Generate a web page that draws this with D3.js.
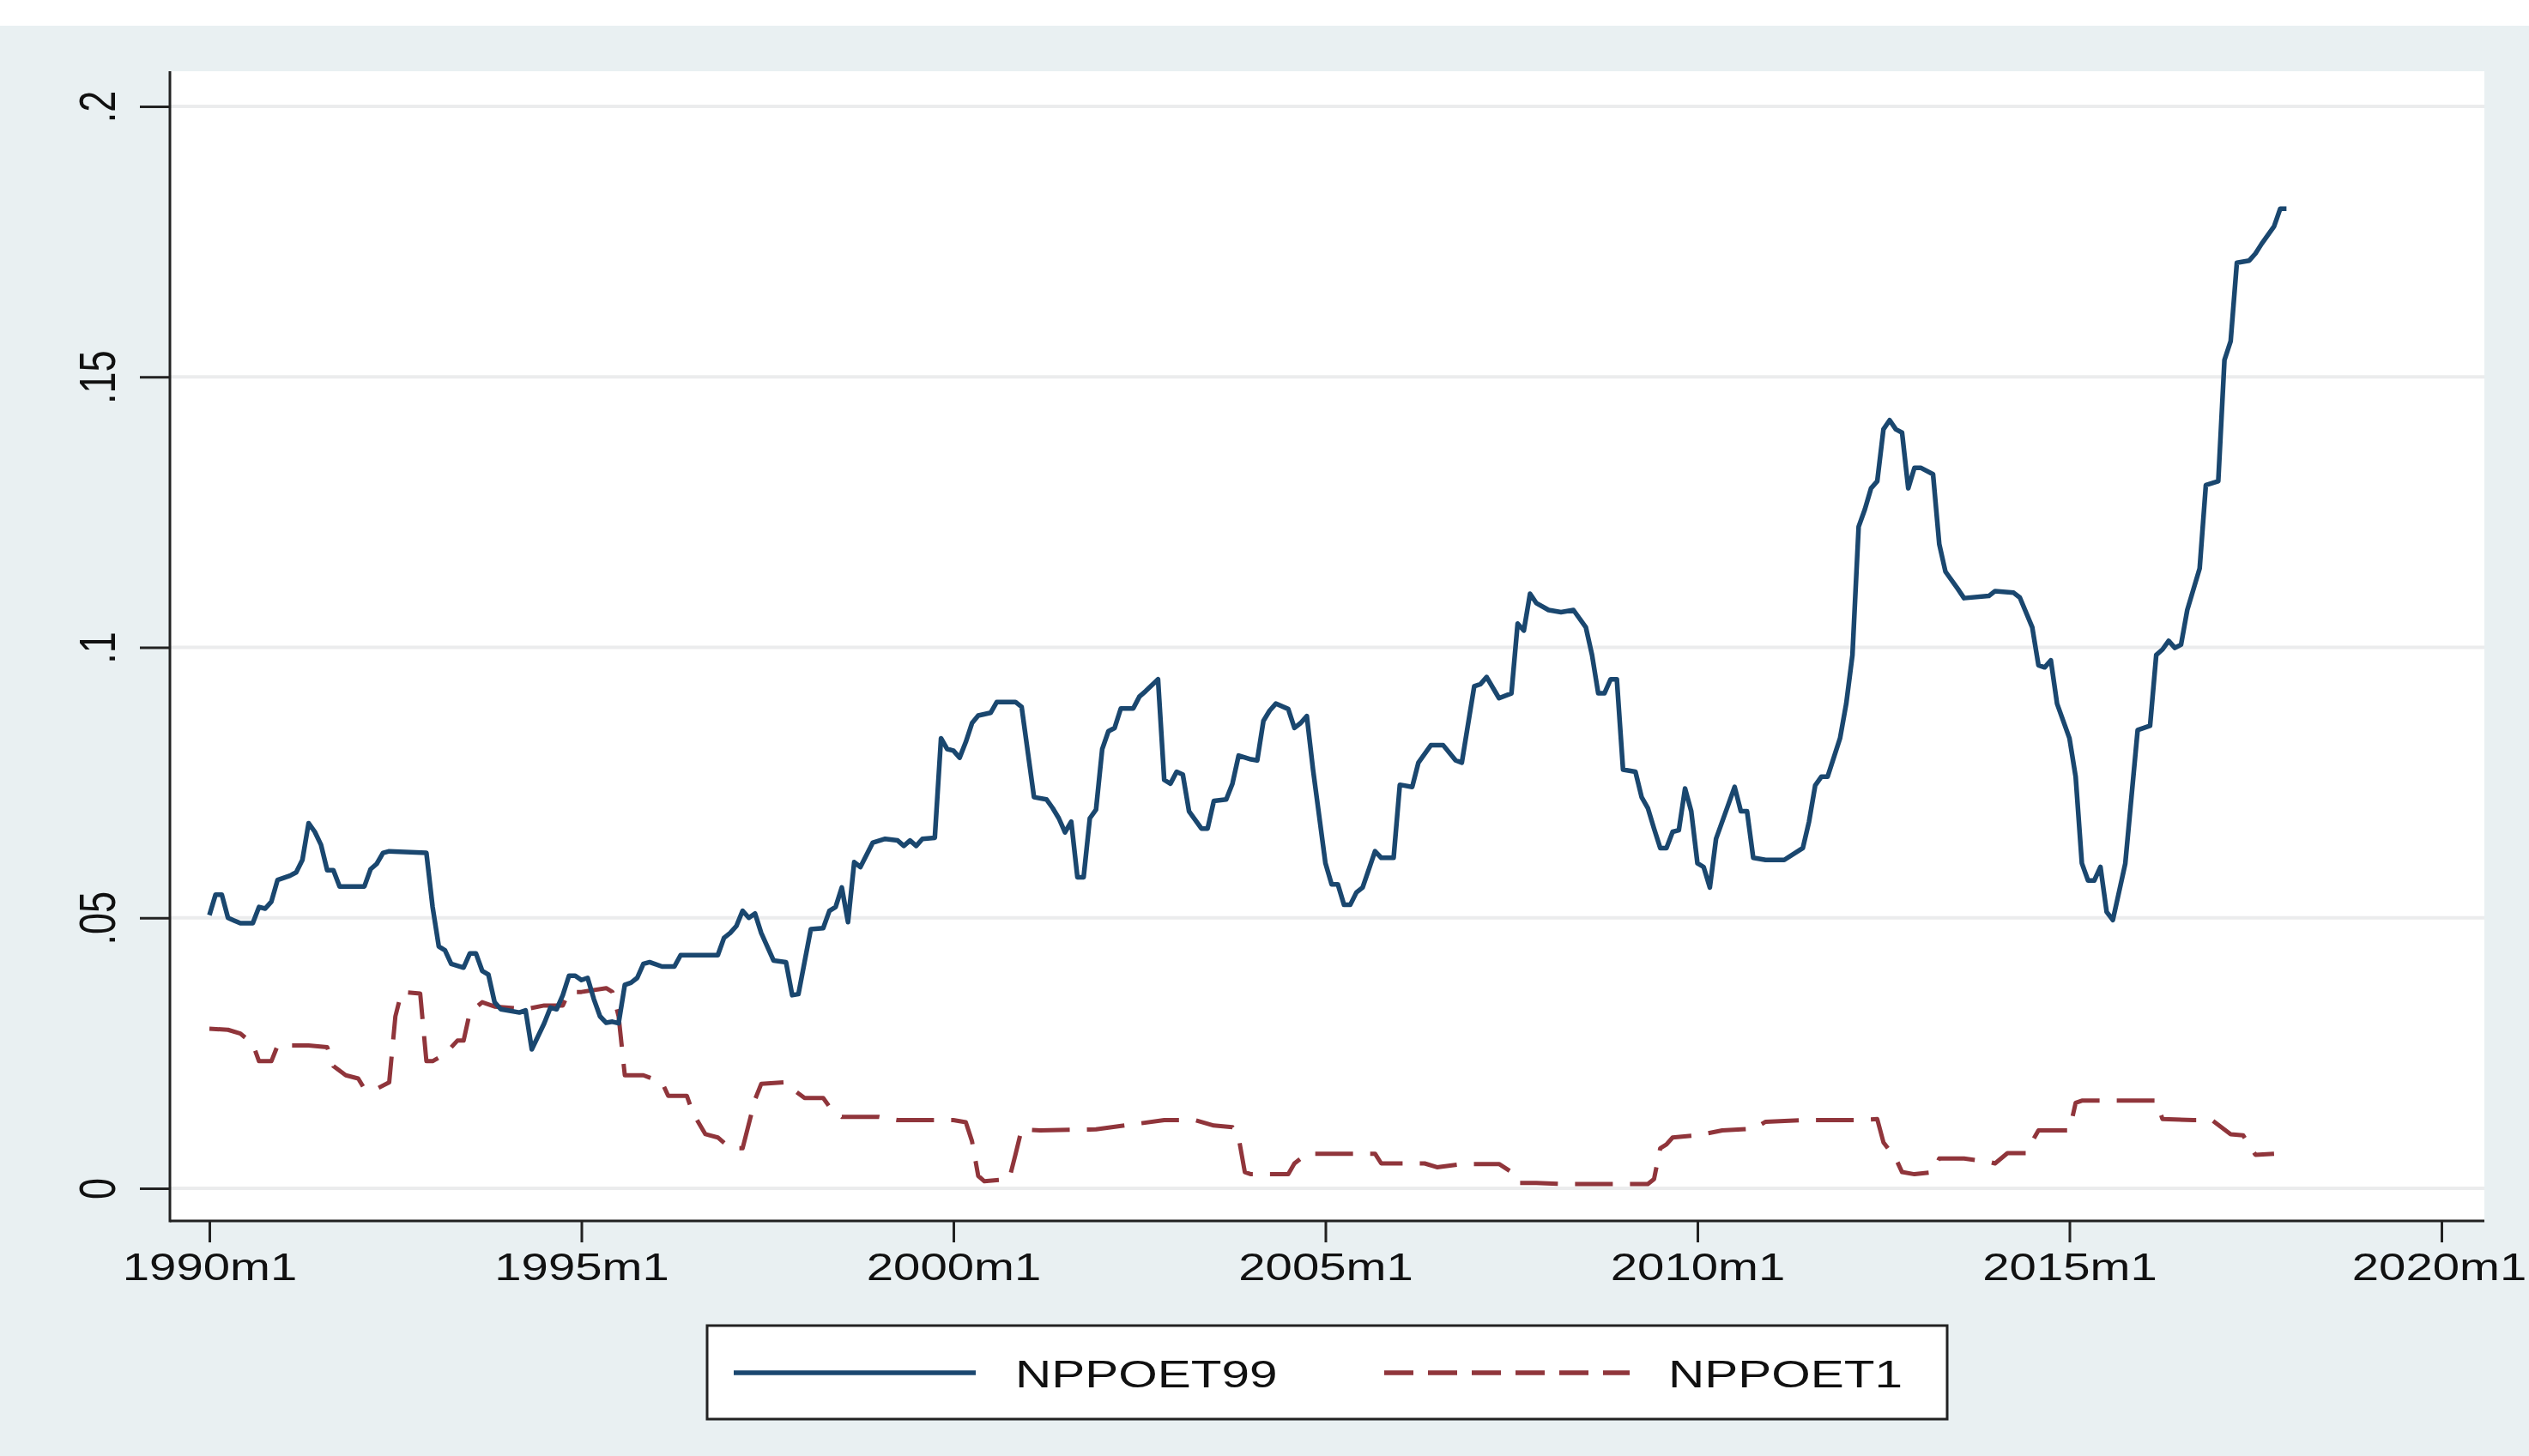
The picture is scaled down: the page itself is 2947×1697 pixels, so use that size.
<!DOCTYPE html>
<html>
<head>
<meta charset="utf-8">
<script src="https://cdn.jsdelivr.net/npm/d3@7"></script>
<style>
    body { margin: 0; background: #ffffff; }
    svg { display: block; }
    text { font-family: "Liberation Sans", Arial, sans-serif; fill: #111; }
</style>
</head>
<body>
<script>
// months counted from 1990m1 (= 0)
const p99Months = [0, 1, 2, 3, 4, 5, 7, 8, 9, 10, 11, 13, 14, 15, 16, 17, 18, 19, 20, 21, 25, 26, 27, 28, 29, 35,
    36, 37, 38, 39, 41, 42, 43, 44, 45, 46, 47, 48, 50, 51, 52, 54, 55, 56, 57, 58, 59, 60, 61, 62, 63, 64, 65,
    66, 67, 68, 69, 70, 71, 73, 75, 76, 82, 83, 84, 85, 86, 87, 88, 89, 91, 93, 94, 95, 97, 99, 100, 101, 102,
    103, 104, 105, 107, 109, 111, 112, 113, 114, 115, 117, 118, 119, 120, 121, 122, 123, 124, 126, 127, 130,
    131, 133, 135, 136, 137, 138, 139, 140, 141, 142, 143, 144, 145, 146, 147, 149, 150, 151, 153, 154, 155,
    156, 157, 158, 160, 161, 162, 164, 165, 166, 168, 169, 170, 171, 172, 174, 175, 176, 177, 178, 180, 181,
    182, 183, 184, 185, 186, 188, 189, 191, 192, 194, 195, 197, 199, 201, 202, 204, 205, 206, 208, 210, 211,
    212, 213, 214, 216, 218, 220, 222, 223, 224, 225, 226, 227, 228, 230, 231, 232, 233, 234, 235, 236, 237,
    238, 239, 240, 241, 242, 243, 245, 246, 247, 248, 249, 251, 254, 257, 258, 259, 260, 261, 263, 264, 265,
    266, 267, 268, 269, 270, 271, 272, 273, 274, 275, 276, 278, 279, 280, 282, 283, 287, 288, 291, 292, 294,
    295, 296, 297, 298, 300, 301, 302, 303, 304, 305, 306, 307, 309, 311, 313, 314, 315, 316, 317, 318, 319,
    321, 322, 324, 325, 326, 327, 329, 330, 331, 333, 334, 335];
const p99Values = [.0505, .0543, .0543, .050, .0495, .049, .049, .052, .0517, .053, .057, .0578, .0584, .0607,
    .0675, .0659, .0635, .0588, .0588, .0558, .0558, .059, .060, .062, .0623, .062,
    .052, .0447, .044, .0415, .0408, .0434, .0434, .0402, .0395, .0344, .0331, .0329, .0325, .0329, .0257,
    .0305, .0334, .0331, .0357, .0393, .0393, .0385, .0389, .035, .0318, .0306, .0308,
    .0305, .0376, .038, .0389, .0415, .0418, .041, .041, .0431, .0431, .0463, .0472, .0485, .0513, .050,
    .0508, .0472, .0421, .0418, .0357, .0359, .0479, .0481, .0513, .052, .0556,
    .0492, .0603, .0594, .0639, .0646, .0643, .0633, .0643, .0633, .0646, .0648, .0832, .0812, .0809, .0796,
    .0825, .086, .0874, .0879, .0899, .0899,
    .089, .0723, .0719, .0703, .0684, .0658, .0678, .0575, .0575, .0684, .070, .0812, .0845, .0851, .0887,
    .0887, .0909, .0919, .0941, .0755, .0748,
    .077, .0765, .0697, .0665, .0665, .0716, .0719, .0748, .080, .0793, .0791, .0864, .0883, .0896, .0886,
    .0851, .086, .0873, .0774, .0601, .0562,
    .0562, .0524, .0524, .0547, .0556, .0623, .0611, .0611, .0746, .0742, .0787, .0819, .0819, .0791, .0787,
    .0928, .0932, .0945, .0906, .0915, .1044,
    .1031, .1099, .1082, .1069, .1065, .1069, .1037, .0986, .0915, .0915, .0941, .0941, .0774, .077, .0723,
    .0703, .0665, .0629, .0629, .0659, .0662,
    .0739, .0697, .0601, .0594, .0556, .0646, .071, .0742, .0697, .0697, .0611, .0607, .0607, .0629, .0678,
    .0745, .0761, .0761, .0832, .0896, .0986,
    .1223, .1255, .1294, .1307, .1403, .142, .1403, .1397, .1294, .1332, .1332, .132, .1191, .114, .1108,
    .1091, .1095, .1104, .1101, .1092, .1037,
    .0967, .0963, .0976, .0896, .0832, .0761, .0601, .0569, .0569, .0594, .0511, .0496, .060, .0847, .0855,
    .0986, .0996, .1012, .0999, .1005, .1069,
    .1146, .130, .1307, .1531, .1566, .1711, .1715, .1728, .1746, .1778, .1811, .1811];

const p1Months = [0, 3, 5, 7, 8, 10, 11, 16, 19, 20, 22, 24, 25, 27, 29, 30, 31, 34, 35, 36, 38, 40, 41, 42,
    44, 46, 51, 54, 57, 58, 60, 64, 65, 66, 67, 70, 73, 74, 77, 78, 80, 82, 84, 86, 88, 89, 93, 94, 96, 99,
    100, 102, 108, 111, 117, 120, 122, 123, 124, 125, 129, 130, 131, 134, 143, 154, 159, 162, 165, 166, 167,
    168, 174, 175, 177, 182, 188, 189, 196, 198, 202, 208, 210, 211, 214, 218, 232, 233, 234, 235, 236, 240,
    244, 249, 251, 257, 266, 269, 270, 272, 273, 275, 278, 279, 283, 287, 288, 290, 293, 294, 295, 300, 301,
    302, 314, 315, 320, 323, 326, 328, 330, 333];
const p1Values = [.0295, .0293, .0286, .0267, .0235, .0235, .0264, .0264, .0261, .0226, .0209, .0203, .0184,
    .0184, .0196, .0318, .0363, .036, .0235, .0235, .0248, .0273, .0273, .0325,
    .0344, .0336, .0331, .0338, .0338, .0363, .0363, .037, .0363, .0318, .0209, .0209, .0196, .0171, .0171,
    .0139, .010, .0094, .0074, .0074, .0164, .0193, .0196, .0184, .0167, .0167,
    .0151, .0132, .0132, .0126, .0126, .0126, .0122, .0087, .0023, .0013, .0017, .0062, .0109, .0107, .0109,
    .0126, .0126, .0116, .0113, .0094, .003,
    .0026, .0026, .0046, .0064, .0064, .0064, .0046, .0046, .0039, .0045, .0045, .003, .001, .001, .0008,
    .0008, .0017, .0074, .0081, .0094, .0098,
    .0107, .011, .0123, .0126, .0126, .0128, .0085, .0055, .003, .0026, .003, .0055, .0055, .0049, .0046,
    .0065, .0065, .0087, .0107, .0107, .0158,
    .0162, .0162, .0128, .0126, .0126, .010, .0098, .0062, .0064];

const xTickMonths = [0, 60, 120, 180, 240, 300, 360];
const xTickLabels = ["1990m1", "1995m1", "2000m1", "2005m1", "2010m1", "2015m1", "2020m1"];
const yTickValues = [0, .05, .1, .15, .2];
const yTickLabels = ["0", ".05", ".1", ".15", ".2"];
const seriesNames = ["NPPOET99", "NPPOET1"];

const W = 2947, H = 1697;
const plot = {left: 198, right: 2895, top: 83, bottom: 1423};
const stretch = 1.3; // text in the picture is stretched sideways
const navy = "#1a476f", maroon = "#90353b";

const svg = d3.select("body").append("svg")
    .attr("width", W)
    .attr("height", H);

svg.append("rect").attr("width", W).attr("height", H).attr("fill", "#ffffff");
svg.append("rect").attr("y", 30).attr("width", W).attr("height", H - 30).attr("fill", "#e9f0f2");
svg.append("rect")
    .attr("x", plot.left).attr("y", plot.top)
    .attr("width", plot.right - plot.left).attr("height", plot.bottom - plot.top)
    .attr("fill", "#ffffff");

let x = d3.scaleLinear().domain([0, 360]).range([244, 2845]);
let y = d3.scaleLinear().domain([0, 0.2]).range([1385, 124]);

/* ------- GRID -------*/
svg.append("g").selectAll("line")
    .data(yTickValues)
    .enter().append("line")
    .attr("x1", plot.left).attr("x2", plot.right)
    .attr("y1", d => y(d)).attr("y2", d => y(d))
    .attr("stroke", "#ebeced")
    .attr("stroke-width", 4);

/* ------- LINES -------*/
let line = d3.line()
    .x(d => x(d[0]))
    .y(d => y(d[1]));

let p99 = d3.zip(p99Months, p99Values);
let p1 = d3.zip(p1Months, p1Values);

svg.append("path")
    .datum(p1)
    .attr("d", line)
    .attr("fill", "none")
    .attr("stroke", maroon)
    .attr("stroke-width", 5)
    .attr("stroke-dasharray", "44,20")
    .attr("stroke-linejoin", "round");

svg.append("path")
    .datum(p99)
    .attr("d", line)
    .attr("fill", "none")
    .attr("stroke", navy)
    .attr("stroke-width", 5.5)
    .attr("stroke-linejoin", "round");

/* ------- AXES -------*/
let xAxis = d3.axisBottom(x)
    .tickValues(xTickMonths)
    .tickSize(25)
    .tickFormat((d, i) => xTickLabels[i]);

let gx = svg.append("g")
    .attr("transform", "translate(0," + plot.bottom + ")")
    .call(xAxis);
gx.select(".domain").remove();
gx.selectAll(".tick line").attr("stroke", "#222").attr("stroke-width", 3);
gx.selectAll(".tick text")
    .attr("y", null).attr("dy", null)
    .attr("transform", (d, i) => "translate(" + (i === xTickMonths.length - 1 ? -3 : 0) + ",69) scale(1.28,1)")
    .attr("font-size", 44)
    .attr("font-family", "Liberation Sans, Arial, sans-serif")
    .attr("fill", "#111");

let yAxis = d3.axisLeft(y)
    .tickValues(yTickValues)
    .tickSize(35)
    .tickFormat((d, i) => yTickLabels[i]);

let gy = svg.append("g")
    .attr("transform", "translate(" + plot.left + ",0)")
    .call(yAxis);
gy.select(".domain").remove();
gy.selectAll(".tick line").attr("stroke", "#222").attr("stroke-width", 3);
gy.selectAll(".tick text")
    .attr("x", null).attr("dy", null)
    .attr("text-anchor", "middle")
    .attr("transform", "translate(-64,0) scale(" + stretch + ",1) rotate(-90)")
    .attr("font-size", 45)
    .attr("font-family", "Liberation Sans, Arial, sans-serif")
    .attr("fill", "#111");

svg.append("line")
    .attr("x1", plot.left).attr("x2", plot.left)
    .attr("y1", plot.top).attr("y2", plot.bottom + 1.5)
    .attr("stroke", "#222").attr("stroke-width", 3);
svg.append("line")
    .attr("x1", plot.left).attr("x2", plot.right)
    .attr("y1", plot.bottom).attr("y2", plot.bottom)
    .attr("stroke", "#222").attr("stroke-width", 3);

/* ------- LEGEND -------*/
let legend = svg.append("g");
legend.append("rect")
    .attr("x", 824).attr("y", 1545)
    .attr("width", 1445).attr("height", 109)
    .attr("fill", "#ffffff")
    .attr("stroke", "#222")
    .attr("stroke-width", 3);

let keys = [
    {name: seriesNames[0], color: navy, dash: null, x1: 855, x2: 1137, tx: 1183},
    {name: seriesNames[1], color: maroon, dash: "34,17", x1: 1613, x2: 1899, tx: 1944}
];

keys.forEach(function(k) {
    legend.append("line")
        .attr("x1", k.x1).attr("x2", k.x2)
        .attr("y1", 1600).attr("y2", 1600)
        .attr("stroke", k.color)
        .attr("stroke-width", 5.5)
        .attr("stroke-dasharray", k.dash);
    legend.append("text")
        .attr("transform", "translate(" + k.tx + ",1617) scale(" + stretch + ",1)")
        .attr("font-size", 45)
        .text(k.name);
});
</script>
</body>
</html>
